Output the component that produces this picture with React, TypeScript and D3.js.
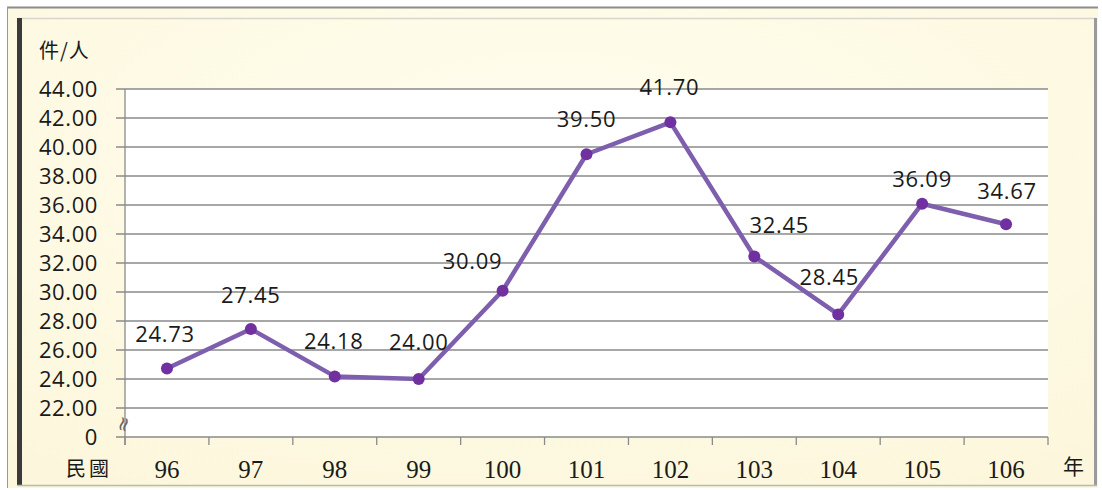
import React from "react";
import * as d3 from "d3";

const years = ["96", "97", "98", "99", "100", "101", "102", "103", "104", "105", "106"];
const values = [24.73, 27.45, 24.18, 24.0, 30.09, 39.5, 41.7, 32.45, 28.45, 36.09, 34.67];
const yTicks = [44, 42, 40, 38, 36, 34, 32, 30, 28, 26, 24, 22, 20];
const yTickLabels = ["44.00", "42.00", "40.00", "38.00", "36.00", "34.00", "32.00", "30.00", "28.00", "26.00", "24.00", "22.00", "0"];
// label nudges (dx, dy relative to marker), to mimic manual placement
const labelNudge: [number, number][] = [
  [-2, -26], [0, -26], [-1, -27], [0, -29], [-30, -22], [0, -27],
  [-1, -27], [25, -23], [-9, -29], [0, -17], [1, -25],
];

const W = 1102;
const H = 490;
const left = 125;
const right = 1048;
const top = 89;
const bottom = 437;

export default function App() {
  const x = d3.scaleBand<string>().domain(years).range([left, right]);
  const y = d3.scaleLinear().domain([20, 44]).range([bottom, top]);
  const line = d3
    .line<number>()
    .x((_, i) => (x(years[i]) as number) + x.bandwidth() / 2)
    .y((d) => y(d));
  const sans = "'Open Sans', 'Noto Sans', sans-serif";
  const cjk = "'Noto Sans CJK TC', 'Noto Sans CJK SC', sans-serif";
  const boundaries = years.map((yr) => x(yr) as number).concat([right]);
  return (
    <svg width={W} height={H} style={{ position: "absolute", left: 0, top: 0 }}>
      <defs>
        <radialGradient id="bg" cx="0.5" cy="0.3" r="0.8">
          <stop offset="0" stopColor="#FFFDEE" />
          <stop offset="1" stopColor="#FCF7DC" />
        </radialGradient>
      </defs>
      <rect x={0} y={0} width={W} height={H} fill="#ffffff" />
      <rect x={7} y={7} width={1091} height={481} fill="url(#bg)" />
      <line x1={7} x2={1098} y1={7.5} y2={7.5} stroke="#8c8c8c" strokeWidth={2} />
      <line x1={7.5} x2={7.5} y1={7} y2={488} stroke="#9a9a9a" strokeWidth={1} />
      {/* inner frame */}
      <line x1={17} x2={1096} y1={18.5} y2={18.5} stroke="#d8d6cc" strokeWidth={1.5} />
      <rect x={17} y={18} width={5} height={468} fill="#3a3a3a" />
      <rect x={1094} y={18} width={3} height={468} fill="#9a9a9a" />
      <line x1={17} x2={1097} y1={485.5} y2={485.5} stroke="#b9b9b0" strokeWidth={1.5} />

      {/* plot area */}
      <rect x={left} y={top} width={right - left} height={bottom - top} fill="#ffffff" />
      {yTicks.map((t, i) => (
        <g key={i}>
          <line x1={116} x2={right} y1={y(t)} y2={y(t)} stroke="#8a8a8a" strokeWidth={1.3} />
          <text
            x={98}
            y={y(t) + 7.5}
            textAnchor="end"
            fontFamily={sans}
            fontSize={22}
            letterSpacing={0.6}
            fill="#1a1a1a"
          >
            {yTickLabels[i]}
          </text>
        </g>
      ))}
      <line x1={left} x2={left} y1={top} y2={bottom + 8} stroke="#8a8a8a" strokeWidth={1.3} />
      {boundaries.map((bx, i) => (
        <line key={i} x1={bx} x2={bx} y1={bottom} y2={bottom + 8} stroke="#8a8a8a" strokeWidth={1.3} />
      ))}
      {/* axis break mark */}
      <text
        x={0}
        y={0}
        transform={`translate(123,424) rotate(-75)`}
        textAnchor="middle"
        dominantBaseline="central"
        fontFamily="'DejaVu Sans', sans-serif"
        fontSize={20}
        fill="#666"
      >
        ≈
      </text>

      {/* series */}
      <path d={line(values) || ""} fill="none" stroke="#7E5FAE" strokeWidth={4.5} strokeLinejoin="round" />
      {values.map((v, i) => {
        const cx = (x(years[i]) as number) + x.bandwidth() / 2;
        return <circle key={i} cx={cx} cy={y(v)} r={6} fill="#7030A0" />;
      })}
      {values.map((v, i) => {
        const cx = (x(years[i]) as number) + x.bandwidth() / 2;
        return (
          <text
            key={i}
            x={cx + labelNudge[i][0]}
            y={y(v) + labelNudge[i][1]}
            textAnchor="middle"
            fontFamily={sans}
            fontSize={22}
            letterSpacing={0.7}
            fill="#1a1a1a"
          >
            {v.toFixed(2)}
          </text>
        );
      })}

      {/* x labels */}
      {years.map((yr) => (
        <text
          key={yr}
          x={(x(yr) as number) + x.bandwidth() / 2}
          y={478}
          textAnchor="middle"
          fontFamily="'Liberation Serif', 'Times New Roman', serif"
          fontSize={25}
          fill="#1a1a1a"
        >
          {yr}
        </text>
      ))}
      <text x={66} y={476} fontFamily={cjk} fontSize={20} fill="#1a1a1a" letterSpacing={3}>
        民國
      </text>
      <text x={1063} y={474} fontFamily={cjk} fontSize={21} fill="#1a1a1a">
        年
      </text>
      <text x={39} y={58} fontFamily={cjk} fontSize={20} fill="#1a1a1a" letterSpacing={1}>
        件/人
      </text>
    </svg>
  );
}
